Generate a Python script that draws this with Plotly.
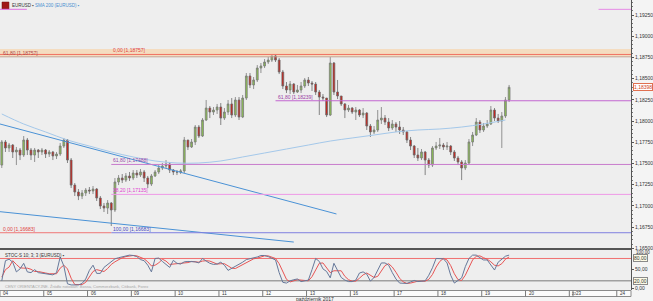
import plotly.graph_objects as go

# ---------------- data ----------------
first_open = 1.17481
closes = [1.17753,1.17682,1.17717,1.17635,1.17658,1.17599,1.17776,1.17658,1.17599,1.17658,1.17635,1.17658,
          1.17611,1.17635,1.17588,1.17611,1.17705,1.17776,1.17540,1.17245,1.17163,1.17116,1.17151,1.17186,
          1.17175,1.17198,1.17092,1.16998,1.16974,1.17033,1.16951,1.17281,1.17328,1.17304,1.17352,1.17328,
          1.17387,1.17363,1.17399,1.17328,1.17257,1.17352,1.17399,1.17446,1.17470,1.17493,1.17422,1.17399,
          1.17399,1.17411,1.17776,1.17694,1.17753,1.17929,1.17823,1.18012,1.18153,1.18106,1.18130,1.18165,
          1.18035,1.18106,1.18201,1.18071,1.18248,1.18047,1.18271,1.18531,1.18425,1.18484,1.18625,
          1.18649,1.18696,1.18719,1.18767,1.18719,1.18578,1.18413,1.18366,1.18436,1.18342,1.18366,1.18413,
          1.18484,1.18448,1.18436,1.18342,1.18283,1.18271,1.18071,1.18684,1.18342,1.18295,1.18201,1.18130,
          1.18153,1.18106,1.18130,1.18071,1.18094,1.17941,1.17871,1.17894,1.18012,1.18035,1.17988,1.17918,
          1.17965,1.17929,1.17894,1.17871,1.17776,1.17705,1.17599,1.17564,1.17635,1.17540,1.17481,1.17682,
          1.17705,1.17717,1.17694,1.17705,1.17635,1.17564,1.17517,1.17446,1.17505,1.17753,1.17835,1.17988,
          1.17894,1.17941,1.17965,1.18130,1.18035,1.18000,1.18059,1.18248,1.18398]
highs = [1.17776,1.17776,1.17741,1.17729,1.17694,1.17682,1.17823,1.17800,1.17682,1.17682,1.17670,1.17682,
         1.17670,1.17658,1.17647,1.17635,1.17741,1.17800,1.17788,1.17564,1.17269,1.17198,1.17186,1.17210,
         1.17222,1.17234,1.17210,1.17116,1.17033,1.17068,1.17045,1.17328,1.17363,1.17375,1.17387,1.17399,
         1.17422,1.17422,1.17434,1.17422,1.17352,1.17375,1.17422,1.17481,1.17505,1.17540,1.17517,1.17434,
         1.17422,1.17434,1.17812,1.17776,1.17788,1.17953,1.17953,1.18035,1.18248,1.18177,1.18165,1.18201,
         1.18212,1.18153,1.18248,1.18271,1.18283,1.18283,1.18307,1.18566,1.18566,1.18519,1.18660,
         1.18684,1.18731,1.18755,1.18767,1.18778,1.18743,1.18602,1.18460,1.18472,1.18448,1.18425,1.18460,
         1.18507,1.18519,1.18472,1.18460,1.18366,1.18318,1.18271,1.18755,1.18696,1.18484,1.18295,1.18212,
         1.18189,1.18165,1.18165,1.18142,1.18153,1.18106,1.17965,1.17941,1.18130,1.18165,1.18071,1.18035,
         1.18012,1.17988,1.18000,1.17929,1.17882,1.17812,1.17717,1.17682,1.17670,1.17647,1.17564,1.17705,
         1.17753,1.17800,1.17741,1.17753,1.17717,1.17658,1.17588,1.17540,1.17540,1.17788,1.17871,1.18035,
         1.18012,1.17977,1.18012,1.18177,1.18153,1.18083,1.18106,1.18283,1.18425]
lows = [1.17446,1.17635,1.17635,1.17564,1.17481,1.17540,1.17576,1.17599,1.17540,1.17517,1.17564,1.17599,
        1.17564,1.17576,1.17540,1.17552,1.17588,1.17682,1.17505,1.17210,1.17116,1.17068,1.17080,1.17116,
        1.17139,1.17139,1.17057,1.16962,1.16927,1.16904,1.16762,1.16927,1.17245,1.17269,1.17281,1.17293,
        1.17304,1.17328,1.17340,1.17281,1.17210,1.17234,1.17340,1.17375,1.17422,1.17446,1.17387,1.17363,
        1.17363,1.17375,1.17387,1.17658,1.17682,1.17717,1.17800,1.17812,1.18000,1.18035,1.18071,1.18083,
        1.17953,1.18012,1.18071,1.18035,1.18047,1.18012,1.18035,1.18248,1.18389,1.18377,1.18460,
        1.18566,1.18625,1.18672,1.18696,1.18696,1.18554,1.18377,1.18330,1.18318,1.18318,1.18330,1.18330,
        1.18389,1.18413,1.18354,1.18307,1.18071,1.18236,1.18047,1.18059,1.18307,1.18259,1.18177,1.18035,
        1.18106,1.18083,1.18012,1.18047,1.18035,1.17894,1.17812,1.17847,1.17871,1.17965,1.17953,1.17882,
        1.17894,1.17871,1.17847,1.17835,1.17741,1.17658,1.17564,1.17529,1.17540,1.17363,1.17446,1.17458,
        1.17658,1.17670,1.17658,1.17658,1.17599,1.17529,1.17481,1.17304,1.17422,1.17481,1.17705,1.17823,
        1.17859,1.17871,1.17918,1.17953,1.18000,1.17977,1.17682,1.18035,1.18224]
opens = [first_open] + closes[:-1]
last_price = 1.18398

sma_idx = [0,6,12,18,24,30,36,42,48,54,60,66,72,78,84,90,96,102,108,114,120,126,132,138]
sma_vals = [1.18083,1.17965,1.17871,1.17776,1.17705,1.17635,1.17576,1.17529,1.17505,1.17505,1.17529,1.17576,
            1.17623,1.17670,1.17717,1.17764,1.17800,1.17835,1.17871,1.17894,1.17906,1.17929,1.17965,1.18012]

stoch_k = [20,74,78,70,44,52,67,44,42,50,42,40,40,38,36,42,84,60,12,9,9,9,13,25,48,62,40,40,56,64,
           71,79,82,85,87,89,88,85,77,74,62,44,80,81,72,65,56,75,67,65,71,72,72,71,68,80,73,67,64,65,
           70,62,48,53,58,63,70,77,79,81,84,88,88,85,80,76,42,16,14,20,23,25,18,20,22,50,80,72,52,45,
           28,67,46,29,22,18,18,22,41,44,38,19,29,48,68,68,62,42,25,14,13,13,17,21,18,18,20,35,55,80,
           80,79,68,35,14,20,28,58,80,89,89,82,76,76,62,49,70,78,86,89]
stoch_d = [30,50,57,74,64,55,54,54,51,45,45,44,41,39,38,39,54,62,52,27,10,9,10,16,29,45,50,47,45,53,
           64,71,77,82,85,87,88,87,83,79,71,60,62,68,78,73,64,65,66,69,68,69,72,72,70,73,74,73,68,65,
           66,66,60,54,53,58,64,70,75,79,81,84,87,87,84,80,66,45,24,17,19,23,22,21,20,31,51,67,68,56,
           42,47,47,47,32,23,19,19,27,36,41,34,29,32,48,61,66,57,43,27,17,13,14,17,19,19,19,24,37,57,
           72,80,76,61,39,23,21,35,55,76,86,87,82,78,71,62,60,66,78,84]

# trend lines: (start index, start price, end index, end price)
trend_lines = [(-0.5, 1.17965, 91.7, 1.16904), (-0.5, 1.16931, 80.0, 1.16573)]
# horizontal levels: (price, start index, color)
levels = [(1.19317, 163.5, '#e68ae6'), (1.18785, -0.5, '#f07060'), (1.18757, -0.5, '#c4a294'),
          (1.18239, 75, '#c266d0'), (1.17488, 30, '#c87ccc'), (1.17135, 30, '#ee98e6'),
          (1.16683, 30, '#8080e0')]
red_level = (1.16683, -0.5, 30)
band = (1.18757, 1.18850)
fib_labels = [("61,80 [1,18757]", -0.3, 1.18757, '#b04848'), ("0,00 [1,18757]", 30, 1.18785, '#e03c3c'),
              ("61,80 [1,18239]", 75, 1.18239, '#9a3ca4'), ("61,80 [1,17488]", 30, 1.17488, '#9a48aa'),
              ("38,20 [1,17135]", 30, 1.17135, '#e03cd0'), ("0,00 [1,16683]", -0.3, 1.16683, '#e03c3c'),
              ("100,00 [1,16683]", 30, 1.16683, '#4848c0')]

price_ticks = [1.165, 1.1675, 1.17, 1.1725, 1.175, 1.1775, 1.18, 1.1825, 1.185, 1.1875, 1.19, 1.1925]
day_labels = ["04","05","06","09","10","11","12","13","16","17","18","19","20","22","23","24"]
day_candles = [12,12,12,12,12,12,12,12,12,12,12,12,12,1,12,12]

X_MIN, X_MAX = -0.49, 172.4
Y_MIN, Y_MAX = 1.16491, 1.19427
MAIN_BOTTOM = 41/290

idx = list(range(len(closes)))
fig = go.Figure()

fig.add_shape(type='rect', xref='x', yref='y', x0=X_MIN, x1=X_MAX, y0=band[0], y1=band[1],
              fillcolor='#f4dcc0', line_width=0, layer='below')

fig.add_trace(go.Scatter(x=sma_idx, y=sma_vals, mode='lines', line=dict(color='#a4c8ea', width=1, shape='spline'),
                         hoverinfo='skip', showlegend=False))
for x0, y0, x1, y1 in trend_lines:
    fig.add_trace(go.Scatter(x=[x0, x1], y=[y0, y1], mode='lines', line=dict(color='#4a92d6', width=1),
                             hoverinfo='skip', showlegend=False))

fig.add_trace(go.Candlestick(x=idx, open=opens, high=highs, low=lows, close=closes,
                             increasing=dict(line=dict(color='#7a7a7a', width=0.8), fillcolor='#8cc152'),
                             decreasing=dict(line=dict(color='#6a6a6a', width=0.8), fillcolor='#d41c14'),
                             whiskerwidth=0, showlegend=False, hoverinfo='skip'))

for price, x0, col in levels:
    fig.add_trace(go.Scatter(x=[x0, X_MAX], y=[price, price], mode='lines',
                             line=dict(color=col, width=1), hoverinfo='skip', showlegend=False))
fig.add_trace(go.Scatter(x=[red_level[1], red_level[2]], y=[red_level[0]]*2, mode='lines',
                         line=dict(color='#f07878', width=1), hoverinfo='skip', showlegend=False))

# stochastic
fig.add_trace(go.Scatter(x=[X_MIN, X_MAX], y=[80, 80], mode='lines', line=dict(color='#f07070', width=1),
                         xaxis='x2', yaxis='y2', hoverinfo='skip', showlegend=False))
fig.add_trace(go.Scatter(x=[X_MIN, X_MAX], y=[20, 20], mode='lines', line=dict(color='#a0a0a0', width=1.5),
                         xaxis='x2', yaxis='y2', hoverinfo='skip', showlegend=False))
fig.add_trace(go.Scatter(x=idx, y=stoch_d, mode='lines', line=dict(color='#e85454', width=1),
                         xaxis='x2', yaxis='y2', hoverinfo='skip', showlegend=False))
fig.add_trace(go.Scatter(x=idx, y=stoch_k, mode='lines', line=dict(color='#66789a', width=1),
                         xaxis='x2', yaxis='y2', hoverinfo='skip', showlegend=False))

ann = []
F = 'Liberation Sans'
for text, x, price, col in fib_labels:
    ann.append(dict(text=text, x=x, y=price, xref='x', yref='y', xanchor='left', yanchor='bottom',
                    showarrow=False, font=dict(size=5, color=col, family=F), yshift=-1))

ann.append(dict(text='1,18398', x=1.0, y=last_price, xref='paper', yref='y', xanchor='left', yanchor='middle',
                showarrow=False, font=dict(size=5, color='#d04020', family=F), bgcolor='#ffffff',
                bordercolor='#e07050', borderwidth=1, borderpad=0, xshift=2))
for v in (80, 20):
    ann.append(dict(text='%d,00' % v, x=1.0, y=v, xref='paper', yref='y2', xanchor='left', yanchor='middle',
                    showarrow=False, font=dict(size=5, color='#333333', family=F), bgcolor='#fdfbe6',
                    bordercolor='#8a8a8a', borderwidth=1, borderpad=0, xshift=2))
ann.append(dict(text='100,00', x=1.0, y=100, xref='paper', yref='y2', xanchor='left', yanchor='middle',
                showarrow=False, font=dict(size=4.5, color='#333333', family=F), xshift=3, yshift=-1))

# top legend
fig.add_shape(type='rect', xref='paper', yref='paper', x0=2/634, x1=9/634, y0=(290-9)/290, y1=(290-2)/290,
              fillcolor='#a01818', line=dict(color='#701010', width=0.5))
fig.add_shape(type='line', xref='paper', yref='paper', x0=0, x1=27/634, y0=(290-9.3)/290, y1=(290-9.3)/290,
              line=dict(color='#e070e0', width=1))
ann.append(dict(text='EURUSD ▪', x=10.5/634, y=(290-5.5)/290, xref='paper', yref='paper', xanchor='left',
                yanchor='middle', showarrow=False, font=dict(size=4.5, color='#333333', family=F)))
ann.append(dict(text='SMA 200 (EURUSD) ▪', x=33/634, y=(290-5.5)/290, xref='paper', yref='paper', xanchor='left',
                yanchor='middle', showarrow=False, font=dict(size=4.5, color='#4a8ed0', family=F)))
ann.append(dict(text='STOC-S 10; 3; 3 (EURUSD) ▪', x=3/634, y=(290-255)/290, xref='paper', yref='paper',
                xanchor='left', yanchor='middle', showarrow=False, font=dict(size=4.5, color='#333333', family=F)))
ann.append(dict(text='CENY ORIENTACYJNE. Źródło notowań: Bossa, Commerzbank, Citibank, Forex', x=3/634,
                y=(290-286.5)/290, xref='paper', yref='paper', xanchor='left', yanchor='middle', showarrow=False,
                font=dict(size=4, color='#a8a8a8', family=F)))

# date row
fig.add_shape(type='rect', xref='paper', yref='paper', x0=0, x1=1, y0=-6.5/290, y1=-0.5/290,
              fillcolor='#fbfbfb', line=dict(color='#8a8a8a', width=1))
start = -0.5
for lab, n in zip(day_labels, day_candles):
    if start > X_MIN:
        fig.add_shape(type='line', xref='x2', yref='paper', x0=start, x1=start, y0=-6.5/290, y1=-0.5/290,
                      line=dict(color='#7a7a7a', width=1))
    ann.append(dict(text=lab, x=start + 0.3, y=-3.5/290, xref='x2', yref='paper', xanchor='left',
                    yanchor='middle', showarrow=False,
                    font=dict(size=4.5 if n > 1 else 3.5, color='#333333', family=F)))
    start += n
ann.append(dict(text='październik 2017', x=316/634, y=-8.7/290, xref='paper', yref='paper', xanchor='center',
                yanchor='middle', showarrow=False, font=dict(size=5, color='#333333', family=F)))

# panel separator
fig.add_shape(type='line', xref='paper', yref='paper', x0=0, x1=1, y0=MAIN_BOTTOM, y1=MAIN_BOTTOM,
              line=dict(color='#555555', width=2))

fig.update_layout(
    width=653, height=301, margin=dict(l=0, r=19, t=0, b=11),
    paper_bgcolor='#f4f4f4', plot_bgcolor='#eeeeee', showlegend=False,
    annotations=ann,
    xaxis=dict(domain=[0, 1], range=[X_MIN, X_MAX], showticklabels=False, showgrid=False, zeroline=False,
               rangeslider=dict(visible=False), anchor='y', fixedrange=True),
    yaxis=dict(domain=[MAIN_BOTTOM, 1], range=[Y_MIN, Y_MAX], side='right', showgrid=False, zeroline=False,
               tickvals=price_ticks, ticktext=[('%.5f' % t).replace('.', ',') for t in price_ticks],
               tickfont=dict(size=5, color='#333333', family=F), ticks='outside', ticklen=2,
               tickcolor='#555555', showline=True, linecolor='#555555', linewidth=1,
               minor=dict(dtick=0.0005, ticks='outside', ticklen=1, tickcolor='#777777', showgrid=False),
               anchor='x'),
    xaxis2=dict(domain=[0, 1], range=[X_MIN, X_MAX], showticklabels=False, showgrid=False, zeroline=False,
                anchor='y2', matches='x'),
    yaxis2=dict(domain=[0, MAIN_BOTTOM], range=[-4.6, 105.4], side='right', showgrid=False, zeroline=False,
                tickvals=[0, 50], ticktext=['0,00', '50,00'],
                tickfont=dict(size=5, color='#333333', family=F), ticks='outside', ticklen=2,
                tickcolor='#555555', showline=True, linecolor='#555555', linewidth=1, anchor='x2'),
)

fig.write_html("out.html")
